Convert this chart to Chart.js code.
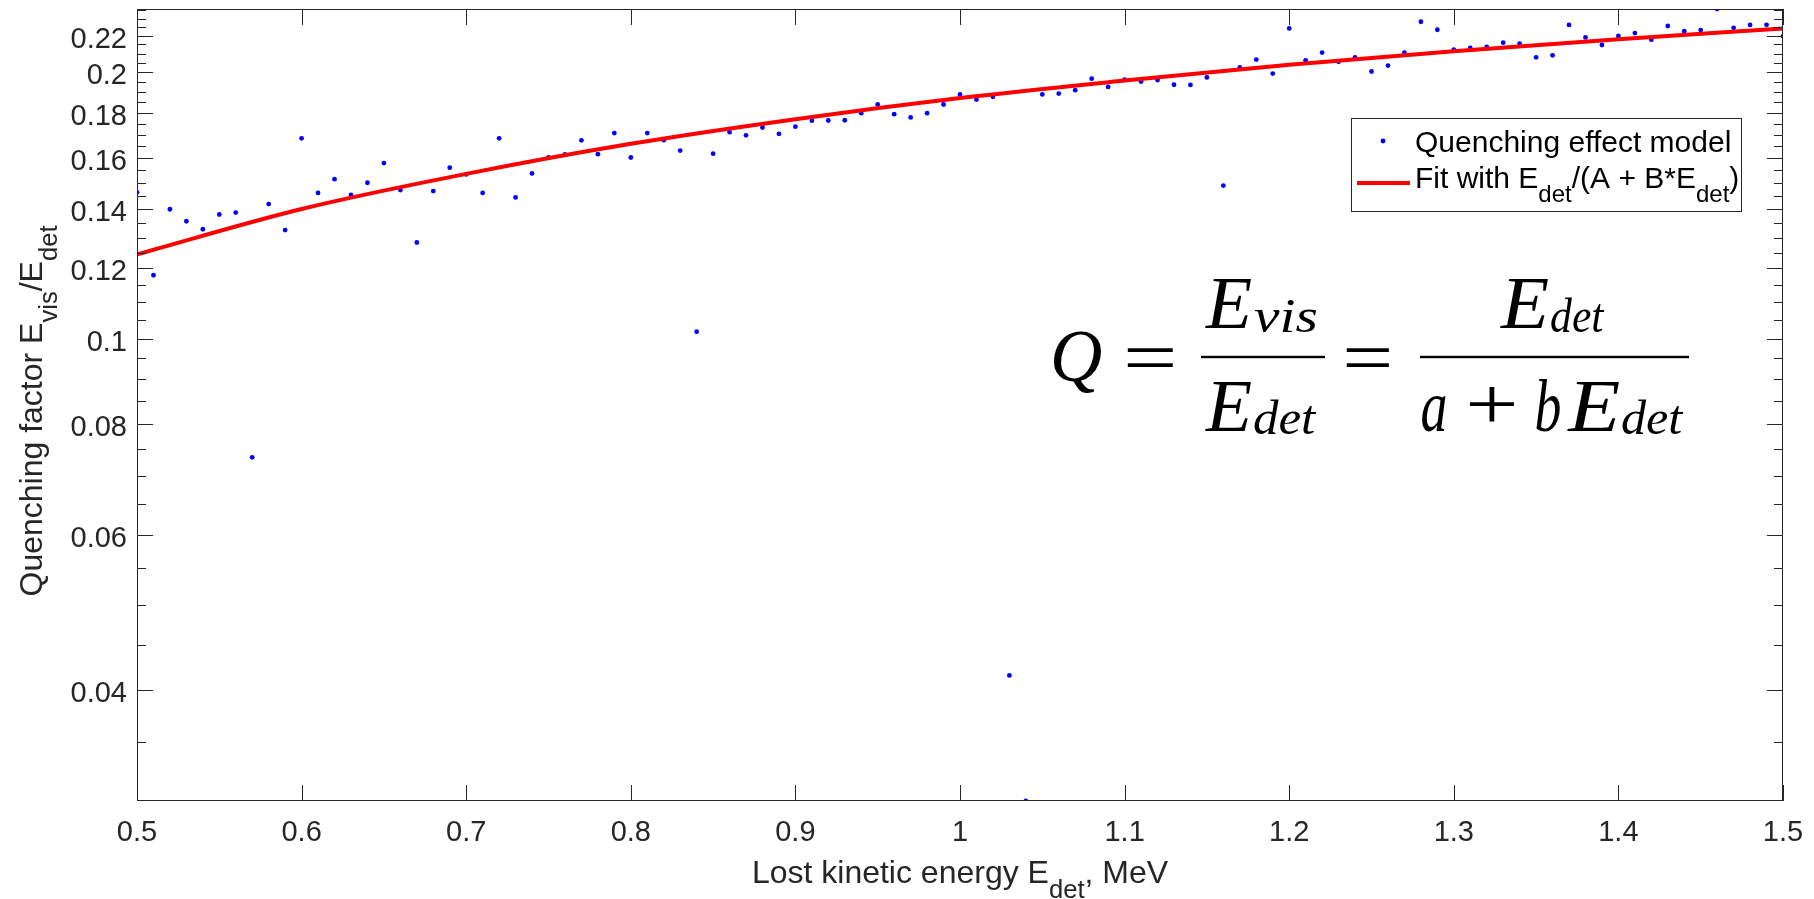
<!DOCTYPE html>
<html>
<head>
<meta charset="utf-8">
<script src="https://cdn.jsdelivr.net/npm/chart.js@4.4.1/dist/chart.umd.min.js"></script>
<style>
  html, body { margin: 0; padding: 0; background: #fff; }
</style>
</head>
<body>
<canvas id="quenchChart" width="1814" height="899"></canvas>
<script>
// data
const energy = [
  0.50, 0.51, 0.52, 0.53, 0.54, 0.55, 0.56, 0.57, 0.58, 0.59,
  0.60, 0.61, 0.62, 0.63, 0.64, 0.65, 0.66, 0.67, 0.68, 0.69,
  0.70, 0.71, 0.72, 0.73, 0.74, 0.75, 0.76, 0.77, 0.78, 0.79,
  0.80, 0.81, 0.82, 0.83, 0.84, 0.85, 0.86, 0.87, 0.88, 0.89,
  0.90, 0.91, 0.92, 0.93, 0.94, 0.95, 0.96, 0.97, 0.98, 0.99,
  1.00, 1.01, 1.02, 1.03, 1.04, 1.05, 1.06, 1.07, 1.08, 1.09,
  1.10, 1.11, 1.12, 1.13, 1.14, 1.15, 1.16, 1.17, 1.18, 1.19,
  1.20, 1.21, 1.22, 1.23, 1.24, 1.25, 1.26, 1.27, 1.28, 1.29,
  1.30, 1.31, 1.32, 1.33, 1.34, 1.35, 1.36, 1.37, 1.38, 1.39,
  1.40, 1.41, 1.42, 1.43, 1.44, 1.45, 1.46, 1.47, 1.48, 1.49,
  1.50
];
const quenching = [
  0.1463, 0.1179, 0.1400, 0.1357, 0.1329, 0.1381, 0.1388, 0.0734, 0.1419, 0.1326,
  0.1684, 0.1461, 0.1514, 0.1453, 0.1500, 0.1579, 0.1472, 0.1284, 0.1468, 0.1560,
  0.1533, 0.1461, 0.1684, 0.1444, 0.1537, 0.1602, 0.1615, 0.1675, 0.1616, 0.1707,
  0.1602, 0.1707, 0.1676, 0.1631, 0.1018, 0.1618, 0.1711, 0.1697, 0.1732, 0.1704,
  0.1736, 0.1763, 0.1764, 0.1765, 0.1798, 0.1839, 0.1793, 0.1778, 0.1798, 0.1839,
  0.1888, 0.1863, 0.1876, 0.0416, 0.0300, 0.1888, 0.1892, 0.1909, 0.1967, 0.1925,
  0.1962, 0.1952, 0.1960, 0.1936, 0.1935, 0.1973, 0.1489, 0.2025, 0.2067, 0.1993,
  0.2242, 0.2063, 0.2105, 0.2055, 0.2079, 0.2004, 0.2035, 0.2105, 0.2281, 0.2234,
  0.2121, 0.2131, 0.2136, 0.2160, 0.2155, 0.2079, 0.2090, 0.2262, 0.2190, 0.2147,
  0.2198, 0.2215, 0.2177, 0.2256, 0.2226, 0.2232, 0.2358, 0.2245, 0.2262, 0.2263,
  0.2196
];
// fitted curve, read at every 0.1 MeV
const fitEnergy = [0.5, 0.6, 0.7, 0.8, 0.9, 1.0, 1.1, 1.2, 1.3, 1.4, 1.5];
const fitValues = [0.1245, 0.1401, 0.1535, 0.1660, 0.1770, 0.1870, 0.1957, 0.2040, 0.2112, 0.2180, 0.2242];

const xTicks = [0.5, 0.6, 0.7, 0.8, 0.9, 1.0, 1.1, 1.2, 1.3, 1.4, 1.5];
const yTicks = [0.04, 0.06, 0.08, 0.1, 0.12, 0.14, 0.16, 0.18, 0.2, 0.22];
const yMin = 0.03, yMax = 0.2358;

const AXIS_COLOR = '#262626';
const SANS = '"Liberation Sans", Arial, Helvetica, sans-serif';
const SERIF = '"Liberation Serif", "Times New Roman", serif';

// text with subscripts: parts = [[text, isSub], ...]
function richWidth(ctx, parts, size) {
  let w = 0;
  parts.forEach(p => {
    ctx.font = (p[1] ? size * 0.8 : size) + 'px ' + SANS;
    w += ctx.measureText(p[0]).width;
  });
  return w;
}
function drawRich(ctx, parts, x, y, size, align) {
  let cx = align === 'center' ? x - richWidth(ctx, parts, size) / 2 : x;
  ctx.textAlign = 'left';
  ctx.textBaseline = 'alphabetic';
  parts.forEach(p => {
    ctx.font = (p[1] ? size * 0.8 : size) + 'px ' + SANS;
    ctx.fillText(p[0], cx, p[1] ? y + size * 0.46 : y);
    cx += ctx.measureText(p[0]).width;
  });
}

// squeeze/stretch a glyph group so its ink spans [left, right]
function fitText(ctx, text, font, left, right, baseline) {
  ctx.font = font;
  ctx.textAlign = 'left';
  ctx.textBaseline = 'alphabetic';
  const m = ctx.measureText(text);
  const inkW = m.actualBoundingBoxLeft + m.actualBoundingBoxRight;
  ctx.save();
  ctx.translate(left, baseline);
  ctx.scale((right - left) / inkW, 1);
  ctx.fillText(text, m.actualBoundingBoxLeft, 0);
  ctx.restore();
}
// same, but centre the ink vertically on cy (for = and +)
function fitSymbol(ctx, text, font, left, right, cy) {
  ctx.font = font;
  const m = ctx.measureText(text);
  const base = cy + (m.actualBoundingBoxAscent - m.actualBoundingBoxDescent) / 2;
  fitText(ctx, text, font, left, right, base);
}

const decorations = {
  id: 'decorations',
  afterDatasetsDraw(chart) {
    const ctx = chart.ctx;
    const a = chart.chartArea;
    const xs = chart.scales.x, ys = chart.scales.y;
    ctx.save();

    // box and inward ticks on all four sides
    ctx.strokeStyle = AXIS_COLOR;
    ctx.lineWidth = 1;
    ctx.strokeRect(a.left + 0.5, a.top + 0.5, a.right - a.left - 1, a.bottom - a.top - 1);
    ctx.beginPath();
    xTicks.forEach(v => {
      const px = Math.round(xs.getPixelForValue(v)) + 0.5;
      ctx.moveTo(px, a.bottom); ctx.lineTo(px, a.bottom - 16);
      ctx.moveTo(px, a.top); ctx.lineTo(px, a.top + 16);
    });
    for (let k = 6; k <= 47; k++) {
      const v = k * 0.005;
      const py = Math.round(ys.getPixelForValue(v)) + 0.5;
      if (py < a.top || py > a.bottom) continue;
      const major = yTicks.some(t => Math.abs(t - v) < 1e-9);
      const len = major ? 16 : 9;
      ctx.moveTo(a.left, py); ctx.lineTo(a.left + len, py);
      ctx.moveTo(a.right, py); ctx.lineTo(a.right - len, py);
    }
    ctx.stroke();

    // axis titles
    ctx.fillStyle = AXIS_COLOR;
    drawRich(ctx, [['Lost kinetic energy E', false], ['det', true], [', MeV', false]],
      (a.left + a.right) / 2, 883, 32, 'center');
    ctx.save();
    ctx.translate(42, (a.top + a.bottom) / 2 + 6);
    ctx.rotate(-Math.PI / 2);
    drawRich(ctx, [['Quenching factor E', false], ['vis', true], ['/E', false], ['det', true]],
      0, 0, 32, 'center');
    ctx.restore();

    // legend
    ctx.fillStyle = '#ffffff';
    ctx.fillRect(1351, 118, 390, 93);
    ctx.strokeStyle = AXIS_COLOR;
    ctx.strokeRect(1351.5, 118.5, 390, 93);
    ctx.fillStyle = '#0000ff';
    ctx.beginPath();
    ctx.arc(1383, 141, 2.4, 0, Math.PI * 2);
    ctx.fill();
    ctx.strokeStyle = '#ff0000';
    ctx.lineWidth = 4;
    ctx.beginPath();
    ctx.moveTo(1357, 183); ctx.lineTo(1410, 183);
    ctx.stroke();
    ctx.fillStyle = '#000000';
    drawRich(ctx, [['Quenching effect model', false]], 1415, 152, 30, 'left');
    drawRich(ctx, [['Fit with E', false], ['det', true], ['/(A + B*E', false], ['det', true], [')', false]],
      1415, 188, 30, 'left');

    // formula Q = E_vis/E_det = E_det/(a + bE_det)
    const big = 'italic 74px ' + SERIF, small = 'italic 48px ' + SERIF, up = '74px ' + SERIF;
    const axisY = 357;
    ctx.fillStyle = '#000000';
    fitText(ctx, 'Q', big, 1054, 1102, 381);
    fitSymbol(ctx, '=', up, 1127, 1174, axisY);
    fitText(ctx, 'E', big, 1205, 1252, 328);
    fitText(ctx, 'vis', small, 1254, 1317, 332);
    fitText(ctx, 'E', big, 1205, 1252, 431);
    fitText(ctx, 'det', small, 1254, 1317, 434);
    fitSymbol(ctx, '=', up, 1346, 1390, axisY);
    fitText(ctx, 'E', big, 1500, 1549, 328);
    fitText(ctx, 'det', small, 1551, 1605, 332);
    fitText(ctx, 'a', big, 1422, 1446, 431);
    fitSymbol(ctx, '+', up, 1469, 1515, 404);
    fitText(ctx, 'b', big, 1536, 1560, 431);
    fitText(ctx, 'E', big, 1567, 1620, 431);
    fitText(ctx, 'det', small, 1622, 1684, 434);
    ctx.fillRect(1201, axisY - 1.2, 124, 2.4);
    ctx.fillRect(1420, axisY - 1.2, 269, 2.4);

    ctx.restore();
  }
};

const ctx = document.getElementById('quenchChart').getContext('2d');
new Chart(ctx, {
  type: 'scatter',
  data: {
    datasets: [
      {
        type: 'line',
        label: 'Fit with Edet/(A + B*Edet)',
        data: fitEnergy.map((x, i) => ({ x, y: fitValues[i] })),
        borderColor: '#ff0000',
        borderWidth: 4,
        pointRadius: 0,
        cubicInterpolationMode: 'monotone',
        order: 0
      },
      {
        label: 'Quenching effect model',
        data: energy.map((x, i) => ({ x, y: quenching[i] })),
        backgroundColor: '#0000ff',
        borderWidth: 0,
        pointRadius: 2.4,
        order: 1
      }
    ]
  },
  options: {
    responsive: false,
    animation: false,
    devicePixelRatio: 1,
    layout: { padding: { left: 0, right: 31, top: 9, bottom: 0 } },
    plugins: { legend: { display: false }, tooltip: { enabled: false } },
    scales: {
      x: {
        type: 'linear',
        min: 0.5,
        max: 1.5,
        grid: { display: false, drawTicks: false },
        border: { display: false },
        afterBuildTicks: s => { s.ticks = xTicks.map(v => ({ value: v })); },
        afterFit: s => {
          s.height = 98;
          s.paddingLeft = 0; s.paddingRight = 0; s.paddingTop = 0; s.paddingBottom = 0;
        },
        ticks: {
          color: AXIS_COLOR,
          font: { family: SANS, size: 29 },
          padding: 15,
          maxRotation: 0,
          callback: v => String(+v.toFixed(2))
        }
      },
      y: {
        type: 'logarithmic',
        min: yMin,
        max: yMax,
        grid: { display: false, drawTicks: false },
        border: { display: false },
        afterBuildTicks: s => { s.ticks = yTicks.map(v => ({ value: v })); },
        afterFit: s => {
          s.width = 137;
          s.paddingLeft = 0; s.paddingRight = 0; s.paddingTop = 0; s.paddingBottom = 0;
        },
        ticks: {
          color: AXIS_COLOR,
          font: { family: SANS, size: 29 },
          padding: 10,
          labelOffset: 4,
          callback: v => String(+v.toFixed(3))
        }
      }
    }
  },
  plugins: [decorations]
});
</script>
</body>
</html>
